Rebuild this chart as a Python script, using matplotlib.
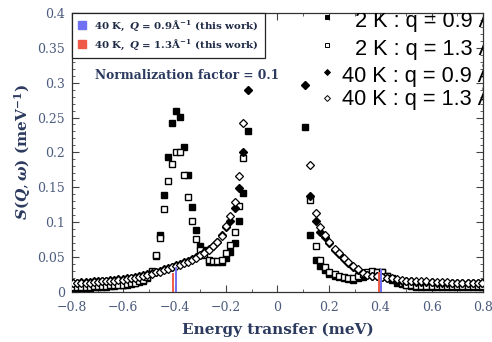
import matplotlib

matplotlib.use("Agg")
import matplotlib.pyplot as plt
import numpy as np
from matplotlib.lines import Line2D
from matplotlib.ticker import MultipleLocator

nan = np.nan

# shared energy grid (meV); elastic region |E| < 0.1 has no data
energy = [
    -0.795, -0.779, -0.763, -0.747, -0.731, -0.715, -0.699, -0.683, -0.667, -0.651,
    -0.635, -0.619, -0.603, -0.587, -0.571, -0.555, -0.539, -0.523, -0.507, -0.489,
    -0.472, -0.456, -0.441, -0.427, -0.411, -0.394, -0.379, -0.365, -0.349, -0.333,
    -0.318, -0.302,
    -0.285, -0.268, -0.251, -0.234, -0.217, -0.200, -0.184, -0.167, -0.151, -0.135,
    -0.116,
    0.108, 0.127, 0.148, 0.166, 0.186, 0.202, 0.222, 0.239, 0.257, 0.274,
    0.293, 0.312, 0.332, 0.350, 0.369, 0.388, 0.407, 0.426, 0.445, 0.464,
    0.483, 0.502, 0.521, 0.540, 0.560, 0.580, 0.600, 0.620, 0.640, 0.660,
    0.680, 0.700, 0.720, 0.740, 0.760, 0.780, 0.797,
]

s_2k_q09 = [
    0.006, 0.006, 0.006, 0.006, 0.006, 0.007, 0.007, 0.007, 0.007, 0.008,
    0.008, 0.009, 0.009, 0.010, 0.011, 0.012, 0.014, 0.016, 0.020, 0.029,
    0.051, 0.081, 0.139, 0.194, 0.242, 0.260, 0.251, 0.208, 0.168, 0.122,
    0.089, 0.066,
    0.060, 0.043, 0.043, 0.043, 0.042, 0.049, 0.057, 0.070, 0.102, 0.142,
    0.230,
    0.237, 0.0815, 0.0455, 0.037, 0.031, 0.0255, 0.023, 0.0215, 0.019, 0.018,
    0.017, 0.019, 0.0215, 0.025, 0.028, 0.028, 0.028, 0.022, 0.017, 0.013,
    0.011, 0.009, 0.008, 0.007, 0.007, 0.007, 0.007, 0.007, 0.007, 0.007,
    0.007, 0.007, 0.007, 0.007, 0.007, 0.007, 0.007,
]

s_2k_q13 = [
    0.007, 0.007, 0.007, 0.007, 0.007, 0.008, 0.008, 0.008, 0.008, 0.009,
    0.009, 0.010, 0.010, 0.011, 0.012, 0.013, 0.015, 0.017, 0.021, 0.030,
    0.052, 0.077, 0.119, 0.159, 0.184, 0.200, 0.200, 0.168, 0.136, 0.101,
    0.076, 0.060,
    0.053, 0.045, 0.044, 0.044, 0.045, 0.055, 0.067, 0.086, 0.123, 0.192,
    nan,
    nan, 0.132, 0.066, 0.0455, 0.035, 0.029, 0.025, 0.023, 0.021, 0.020,
    0.020, 0.022, 0.025, 0.028, 0.030, 0.029, 0.028, 0.023, 0.019, 0.015,
    0.012, 0.010, 0.009, 0.008, 0.008, 0.008, 0.008, 0.008, 0.008, 0.008,
    0.008, 0.008, 0.008, 0.008, 0.008, 0.008, 0.008,
]

s_40k_q09 = [
    0.013, 0.013, 0.014, 0.014, 0.014, 0.015, 0.015, 0.016, 0.016, 0.017,
    0.017, 0.018, 0.018, 0.019, 0.020, 0.021, 0.022, 0.024, 0.025, 0.027,
    0.029, 0.030, 0.032, 0.034, 0.036, 0.038, 0.040, 0.042, 0.044, 0.047,
    0.050, 0.053,
    0.057, 0.061, 0.066, 0.072, 0.081, 0.093, 0.101, 0.120, 0.149, 0.201,
    0.290,
    0.296, 0.1375, 0.102, 0.085, 0.079, 0.070, 0.060, 0.054, 0.0465, 0.041,
    0.036, 0.031, 0.027, 0.024, 0.023, 0.022, 0.021, 0.020, 0.018, 0.016,
    0.016, 0.015, 0.015, 0.014, 0.014, 0.014, 0.014, 0.013, 0.013, 0.013,
    0.013, 0.013, 0.013, 0.012, 0.012, 0.012, 0.012,
]

s_40k_q13 = [
    0.012, 0.012, 0.013, 0.013, 0.013, 0.014, 0.014, 0.015, 0.015, 0.016,
    0.016, 0.017, 0.017, 0.018, 0.019, 0.020, 0.021, 0.023, 0.024, 0.026,
    0.028, 0.029, 0.031, 0.033, 0.035, 0.037, 0.039, 0.041, 0.043, 0.046,
    0.049, 0.052,
    0.056, 0.060, 0.065, 0.071, 0.080, 0.094, 0.108, 0.129, 0.166, 0.242,
    nan,
    nan, 0.182, 0.1135, 0.093, 0.081, 0.071, 0.061, 0.055, 0.048, 0.042,
    0.037, 0.032, 0.027, 0.024, 0.023, 0.022, 0.021, 0.020, 0.019, 0.018,
    0.017, 0.016, 0.016, 0.015, 0.015, 0.015, 0.014, 0.014, 0.014, 0.014,
    0.013, 0.013, 0.013, 0.013, 0.013, 0.013, 0.013,
]

# "this work" peak sticks
work_q09_x = [-0.395, 0.403]
work_q09_h = [0.036, 0.032]
work_q13_x = [-0.405, 0.397]
work_q13_h = [0.027, 0.029]

right_labels = ["2 K : q = 0.9 Å", "2 K : q = 1.3 Å", "40 K : q = 0.9 Å", "40 K : q = 1.3 Å"]

NAVY = "#2b3a5e"
TICK = "#4d5c7e"
BLUE = "#7070f2"
RED = "#ef5a48"

plt.rcParams["font.family"] = "DejaVu Serif"
plt.rcParams["mathtext.fontset"] = "dejavuserif"

fig = plt.figure(figsize=(4.92, 3.42), dpi=100)
ax = fig.add_axes([0.1463, 0.147, 0.8354, 0.815])

ax.plot(energy, s_2k_q09, ls="", marker="s", ms=4.4, color="black", mec="black", zorder=3)
ax.plot(energy, s_2k_q13, ls="", marker="s", ms=4.4, mfc="white", mec="black", mew=1.0, zorder=3)
ax.plot(energy, s_40k_q09, ls="", marker="D", ms=4.0, color="black", zorder=4)
ax.plot(energy, s_40k_q13, ls="", marker="D", ms=4.0, mfc="white", mec="black", mew=0.9, zorder=4)

ax.vlines(work_q09_x, 0, work_q09_h, color=BLUE, lw=1.4, zorder=5)
ax.vlines(work_q13_x, 0, work_q13_h, color=RED, lw=1.4, zorder=5)

ax.set_xlim(-0.8, 0.8)
ax.set_ylim(0, 0.4)
ax.xaxis.set_major_locator(MultipleLocator(0.2))
ax.xaxis.set_minor_locator(MultipleLocator(0.1))
ax.yaxis.set_major_locator(MultipleLocator(0.05))
ax.yaxis.set_minor_locator(MultipleLocator(0.01))
ax.tick_params(which="both", direction="in", top=True, right=True, color="#444444",
               labelcolor=TICK, labelsize=9)
ax.tick_params(which="major", length=5, width=0.8)
ax.tick_params(which="minor", length=2.5, width=0.6)
ax.tick_params(axis="x", which="major", pad=7)
ax.tick_params(axis="y", which="major", pad=5)
ax.xaxis.set_major_formatter(plt.FuncFormatter(
    lambda v, _: "0" if abs(v) < 1e-9 else f"{v:.1f}".replace("-", "\u2212")))
ax.yaxis.set_major_formatter(plt.FuncFormatter(lambda v, _: "0" if abs(v) < 1e-9 else f"{v:g}"))
for sp in ax.spines.values():
    sp.set_color("#333333")
    sp.set_linewidth(0.9)

ax.set_xlabel("Energy transfer (meV)", fontsize=11, fontweight="bold", color=NAVY, labelpad=6)
ax.set_ylabel(r"$\boldsymbol{S(Q,\omega)}$ (meV$^{\mathbf{-1}}$)", fontsize=11,
              fontweight="bold", color=NAVY, labelpad=3)

# top-left legend for this work
handles = [Line2D([], [], ls="", marker="s", ms=6, color=BLUE),
           Line2D([], [], ls="", marker="s", ms=6, color=RED)]
labels = [r"$\mathbf{40\ K,}\ \boldsymbol{Q}\mathbf{\,=\,0.9\AA^{-1}}$ (this work)",
          r"$\mathbf{40\ K,}\ \boldsymbol{Q}\mathbf{\,=\,1.3\AA^{-1}}$ (this work)"]
leg = ax.legend(handles, labels, loc="upper left", bbox_to_anchor=(0, 1), borderaxespad=0,
                fancybox=False, framealpha=1, edgecolor="#222222", handlelength=0.8,
                handletextpad=0.8, borderpad=0.55, labelspacing=0.5,
                prop={"family": "DejaVu Serif", "weight": "bold", "size": 7.4})
for t in leg.get_texts():
    t.set_color("#1f2a45")
leg.get_frame().set_linewidth(0.9)
leg.set_zorder(10)

ax.text(0.055, 0.775, "Normalization factor = 0.1", transform=ax.transAxes, fontsize=8.8,
        fontweight="bold", color=NAVY, va="center", ha="left")

# legend from the compared data set (clipped at the frame)
marker_styles = [dict(marker="s", color="black"), dict(marker="s", mfc="white", mec="black"),
                 dict(marker="D", color="black"), dict(marker="D", mfc="white", mec="black")]
marker_y = [0.984, 0.885, 0.789, 0.694]
text_x = [0.689, 0.689, 0.658, 0.658]
text_base = [0.951, 0.849, 0.753, 0.670]
for lab, st, my, tx, ty in zip(right_labels, marker_styles, marker_y, text_x, text_base):
    ax.plot([0.62], [my], ls="", ms=3, mew=0.7, transform=ax.transAxes, clip_on=False,
            zorder=6, **st)
    ax.text(tx, ty, lab, transform=ax.transAxes, fontsize=15.7, family="Liberation Sans",
            color="black", va="baseline", ha="left", clip_on=True, zorder=6)

fig.savefig("out.png", dpi=100)
